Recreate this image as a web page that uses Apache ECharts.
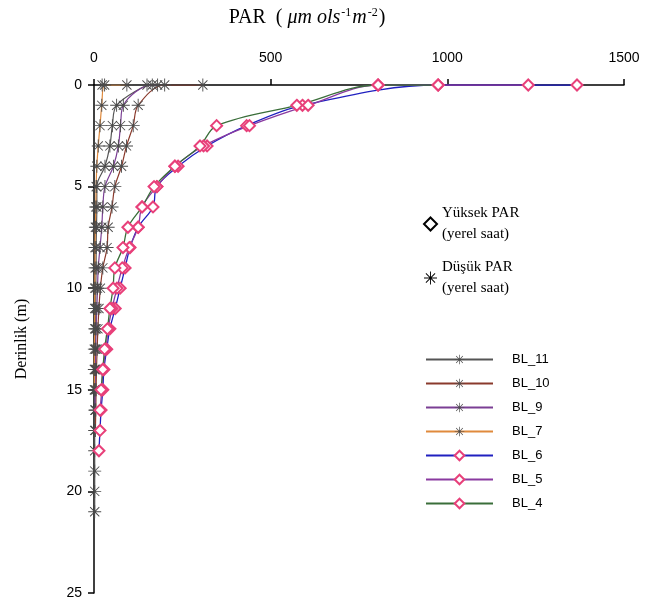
<!DOCTYPE html>
<html>
<head>
<meta charset="utf-8">
<script src="https://cdn.jsdelivr.net/npm/echarts@6/dist/echarts.min.js"></script>
<style>
    html, body { margin: 0; padding: 0; background: #fff; }
    #container { width: 649px; height: 610px; }
</style>
</head>
<body>
<div id="container"></div>
<script>
    // depths (m): two readings at the surface, then one per metre
    var depths = [0, 0, 1, 2, 3, 4, 5, 6, 7, 8, 9, 10, 11, 12, 13, 14, 15, 16, 17, 18, 19, 20, 21];
    var xTicks = [0, 500, 1000, 1500];
    var yTicks = [0, 5, 10, 15, 20, 25];

    // low PAR profiles (umol s-1 m-2)
    var bl11 = [23, 150, 64, 52, 45, 31, 8, 8, 7, 6, 6, 5, 5, 4, 4, 3, 3, 3, 2, 2, 2, 2, 2];
    var bl10 = [308, 200, 125, 111, 92, 78, 59, 51, 40, 37, 25, 18, 14, 11, 9, 7, 6, 5, 4];
    var bl9 = [180, 165, 83, 75, 69, 55, 31, 25, 22, 17, 12, 10, 8, 6, 5, 4, 3, 3];
    var bl7 = [93, 30, 22, 17, 12, 8, 6, 5, 4, 3, 3, 2, 2, 2, 1, 1, 1];
    // high PAR profiles
    var bl6 = [1367, 974, 590, 432, 320, 238, 178, 167, 125, 102, 88, 74, 60, 45, 36, 28, 25, 20, 17, 14];
    var bl5 = [1229, 804, 606, 440, 310, 229, 178, 136, 125, 100, 80, 65, 51, 40, 34, 25, 22, 17];
    var bl4 = [974, 804, 574, 347, 300, 229, 170, 136, 96, 82, 59, 54, 45, 38, 30, 25, 20];

    var star = 'path://M10,0.7L10,-0.7L-10,-0.7L-10,0.7Z M-0.7,10L0.7,10L0.7,-10L-0.7,-10Z ' +
        'M6.58,7.56L7.56,6.58L-6.58,-7.56L-7.56,-6.58Z M-7.56,6.58L-6.58,7.56L7.56,-6.58L6.58,-7.56Z';

    function pairs(vals) {
        return vals.map(function (v, i) { return [v, depths[i]]; });
    }

    function lowSeries(name, vals, color) {
        return {
            name: name, type: 'line', data: pairs(vals),
            smooth: 0.35,
            symbol: star, symbolSize: 13,
            itemStyle: { color: '#4a4a4a' },
            lineStyle: { color: color, width: 1.2 },
            animation: false
        };
    }
    function highSeries(name, vals, color) {
        return {
            name: name, type: 'line', data: pairs(vals),
            smooth: 0.35,
            symbol: 'emptyDiamond', symbolSize: 11,
            itemStyle: { color: '#e8407a', borderWidth: 1.3 },
            lineStyle: { color: color, width: 1.3 },
            animation: false
        };
    }

    var dom = document.getElementById('container');
    var myChart = echarts.init(dom);
    var option = {
        backgroundColor: '#fff',
        grid: { left: 94, top: 85, right: 25, bottom: 17 },
        legend: [
            {
                orient: 'vertical', left: 418, top: 198,
                itemWidth: 13, itemHeight: 13, itemGap: 12,
                textStyle: { fontFamily: 'Liberation Serif', fontSize: 15, color: '#000', lineHeight: 21 },
                data: [
                    { name: 'Yüksek PAR\n(yerel saat)', icon: 'diamond',
                        itemStyle: { color: '#fff', borderColor: '#000', borderWidth: 2 } },
                    { name: 'Düşük PAR\n(yerel saat)', icon: star,
                        itemStyle: { color: '#000' } }
                ]
            },
            {
                orient: 'vertical', left: 420, top: 348,
                itemWidth: 67, itemHeight: 12, itemGap: 11,
                textStyle: { fontFamily: 'Liberation Sans', fontSize: 13, color: '#000', padding: [0, 0, 0, 14] },
                data: ['BL_11', 'BL_10', 'BL_9', 'BL_7', 'BL_6', 'BL_5', 'BL_4']
            }
        ],
        xAxis: {
            type: 'value', position: 'top',
            min: xTicks[0], max: xTicks[xTicks.length - 1], interval: 500,
            name: 'PAR  ( {i|μm ols}{s|-1}{i|m}{s|-2})',
            nameLocation: 'middle', nameGap: 56,
            nameTextStyle: {
                fontFamily: 'Liberation Serif', fontSize: 20, color: '#000',
                padding: [0, 104, 0, 0],
                rich: {
                    i: { fontFamily: 'Liberation Serif', fontStyle: 'italic', fontSize: 20, color: '#000' },
                    s: { fontFamily: 'Liberation Serif', fontSize: 12, color: '#000', padding: [0, 1, 10, 1] }
                }
            },
            axisLine: { lineStyle: { color: '#000', width: 1.5 } },
            axisTick: { lineStyle: { color: '#000', width: 1.5 }, length: 6 },
            axisLabel: {
                margin: 20, fontFamily: 'Liberation Sans', fontSize: 14, color: '#000',
                formatter: function (v) { return String(v); }
            },
            splitLine: { show: false }
        },
        yAxis: {
            type: 'value', inverse: true,
            min: yTicks[0], max: yTicks[yTicks.length - 1], interval: 5,
            name: 'Derinlik (m)', nameLocation: 'middle', nameGap: 64,
            nameTextStyle: { fontFamily: 'Liberation Serif', fontSize: 16, color: '#000' },
            axisLine: { lineStyle: { color: '#000', width: 1.5 } },
            axisTick: { lineStyle: { color: '#000', width: 1.5 }, length: 6 },
            axisLabel: { margin: 12, fontFamily: 'Liberation Sans', fontSize: 14, color: '#000' },
            splitLine: { show: false }
        },
        series: [
            { name: 'Yüksek PAR\n(yerel saat)', type: 'line', data: [] },
            { name: 'Düşük PAR\n(yerel saat)', type: 'line', data: [] },
            lowSeries('BL_11', bl11, '#555555'),
            lowSeries('BL_10', bl10, '#8a3a2c'),
            lowSeries('BL_9', bl9, '#7b3f94'),
            lowSeries('BL_7', bl7, '#e08a3c'),
            highSeries('BL_6', bl6, '#2020c0'),
            highSeries('BL_5', bl5, '#8a3aa0'),
            highSeries('BL_4', bl4, '#3a6e3a')
        ]
    };
    if (option && typeof option === "object") {
        myChart.setOption(option, true);
    }
</script>
</body>
</html>
